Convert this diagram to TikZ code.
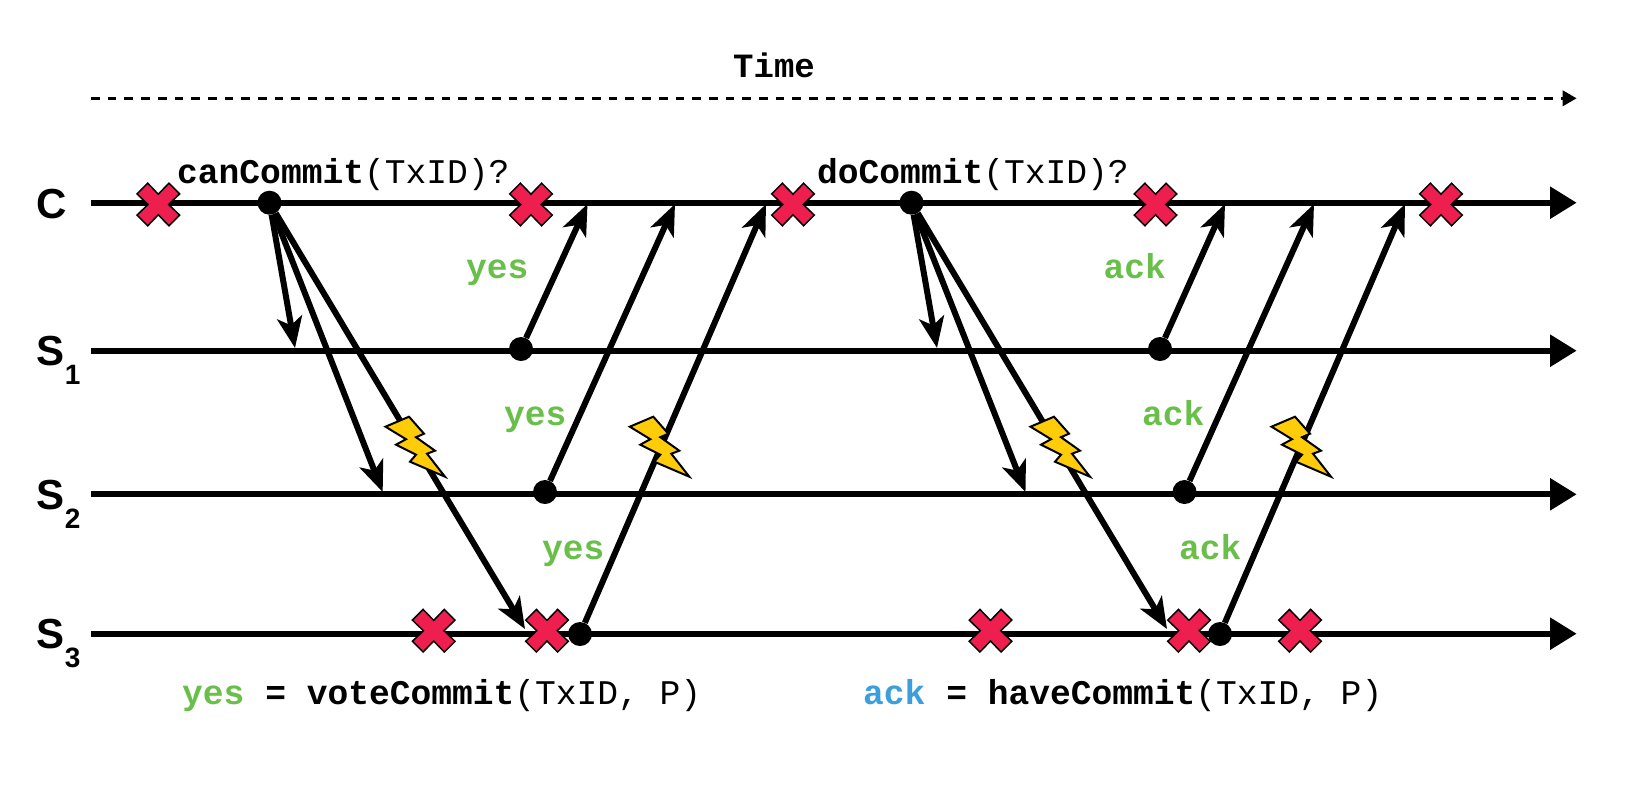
\documentclass[tikz,border=0pt]{standalone}
\usepackage{fontspec}
\setmainfont{Liberation Sans}
\setmonofont{Liberation Mono}
\usepackage{tikz}
\definecolor{crossred}{RGB}{238,31,79}
\definecolor{boltyellow}{RGB}{255,204,10}
\definecolor{votegreen}{RGB}{106,191,75}
\definecolor{ackblue}{RGB}{60,159,220}
\usetikzlibrary{arrows.meta}
\pgfdeclarelayer{edgelayer}
\pgfdeclarelayer{nodelayer}
\pgfsetlayers{edgelayer,nodelayer,main}
\tikzstyle{lane}=[-{Triangle[length=26.7pt,width=31pt]},line width=6pt]
\tikzstyle{msg}=[-{Stealth[length=31pt,width=25pt,inset=8pt]},line width=6pt]
\tikzstyle{dot}=[circle,fill=black,inner sep=0pt,minimum size=24pt]
\tikzstyle{proc}=[anchor=base west,inner sep=0pt,font=\fontsize{42}{42}\selectfont\bfseries]
\tikzstyle{call}=[anchor=base west,inner sep=0pt,font=\fontsize{34.6}{36}\selectfont\ttfamily]
\tikzstyle{reply}=[call,text=votegreen,font=\fontsize{34.6}{36}\selectfont\ttfamily\bfseries]
\newcommand{\subnum}[1]{\raisebox{-19pt}{\fontsize{28}{28}\selectfont #1}}
\tikzset{
    crash/.pic={
        \draw [fill=crossred,draw=black,line width=1.5pt,miter limit=10]
            (0,-10.3) -- (10.6,-21.3) -- (21.3,-10.6) -- (10.3,0) -- (21.3,10.6) -- (10.6,21.3)
            -- (0,10.3) -- (-10.6,21.3) -- (-21.3,10.6) -- (-10.3,0) -- (-21.3,-10.6) -- (-10.6,-21.3) -- cycle;
    },
    bolt/.pic={
        \draw [fill=boltyellow,draw=black,line width=2pt,miter limit=10]
            (1.5,0) -- (25,-10) -- (40,7) -- (32,10.5) -- (51,24) -- (43,27)
            -- (61,50) -- (26,35) -- (32,28) -- (12,18) -- (22,12.5) -- cycle;
    }
}

\begin{document}
\begin{tikzpicture}[x=1pt,y=-1pt]
        \useasboundingbox (0,0) rectangle (1628,801);

        \begin{pgfonlayer}{nodelayer}
            \node [call, font=\fontsize{34}{36}\selectfont\ttfamily\bfseries] (time) at (733, 77.3) {Time};

            \node [proc] (labc) at (36.7, 218) {C};
            \node [proc] (labs1) at (36.7, 365.5) {S\subnum{1}};
            \node [proc] (labs2) at (36.7, 509) {S\subnum{2}};
            \node [proc] (labs3) at (36.7, 648.5) {S\subnum{3}};

            \node [style = dot] (can) at (269.5, 202.7) {};
            \node [style = dot] (vote1) at (521, 349) {};
            \node [style = dot] (vote2) at (545, 492) {};
            \node [style = dot] (vote3) at (580, 634) {};
            \node [style = dot] (do) at (911.5, 202.7) {};
            \node [style = dot] (ack1) at (1160, 349) {};
            \node [style = dot] (ack2) at (1184.5, 492) {};
            \node [style = dot] (ack3) at (1220, 634) {};

            \node [call] (cancall) at (177, 183) {\textbf{canCommit}(TxID)?};
            \node [call] (docall) at (817, 183) {\textbf{doCommit}(TxID)?};

            \node [reply] (yes1) at (466, 278) {yes};
            \node [reply] (yes2) at (504, 425) {yes};
            \node [reply] (yes3) at (542, 559) {yes};
            \node [reply] (ack1txt) at (1103.5, 278) {ack};
            \node [reply] (ack2txt) at (1142, 425) {ack};
            \node [reply] (ack3txt) at (1179, 559) {ack};

            \node [call] (yeslegend) at (182, 704) {\textbf{\textcolor{votegreen}{yes} = voteCommit}(TxID, P)};
            \node [call] (acklegend) at (863, 704) {\textbf{\textcolor{ackblue}{ack} = haveCommit}(TxID, P)};

            \pic at (158.3, 204.5) {crash};
            \pic at (531, 204.5) {crash};
            \pic at (793, 204.5) {crash};
            \pic at (1155.5, 204.5) {crash};
            \pic at (1441, 204.5) {crash};
            \pic at (433.7, 630.7) {crash};
            \pic at (547, 630.7) {crash};
            \pic at (990.5, 630.7) {crash};
            \pic at (1189, 630.7) {crash};
            \pic at (1300, 630.7) {crash};

            \pic at (384, 426.7) {bolt};
            \pic at (628.3, 426.7) {bolt};
            \pic at (1029, 426.7) {bolt};
            \pic at (1270, 426.7) {bolt};
        \end{pgfonlayer}

        \begin{pgfonlayer}{edgelayer}
            \coordinate (timea) at (91, 98.3);
            \coordinate (timeb) at (1576.7, 98.3);
            \coordinate (ca) at (91, 202.7);
            \coordinate (cb) at (1576.7, 202.7);
            \coordinate (s1a) at (91, 350.7);
            \coordinate (s1b) at (1576.7, 350.7);
            \coordinate (s2a) at (91, 494.3);
            \coordinate (s2b) at (1576.7, 494.3);
            \coordinate (s3a) at (91, 633.7);
            \coordinate (s3b) at (1576.7, 633.7);

            \coordinate (cant1) at (295, 348);
            \coordinate (cant2) at (382.7, 492);
            \coordinate (cant3) at (525, 629);
            \coordinate (dot1) at (937, 348);
            \coordinate (dot2) at (1025.5, 492);
            \coordinate (dot3) at (1167, 629);
            \coordinate (vt1) at (587.5, 204);
            \coordinate (vt2) at (675, 204);
            \coordinate (vt3) at (766, 204);
            \coordinate (at1) at (1225, 204);
            \coordinate (at2) at (1314, 204);
            \coordinate (at3) at (1405, 204);

            \draw [-{Triangle[length=14pt,width=15pt]}, line width=3.3pt, dash pattern=on 8.7pt off 8pt] (timea) to (timeb);
            \draw [style = lane] (ca) to (cb);
            \draw [style = lane] (s1a) to (s1b);
            \draw [style = lane] (s2a) to (s2b);
            \draw [style = lane] (s3a) to (s3b);

            \draw [style = msg] (can) to (cant1);
            \draw [style = msg] (can) to (cant2);
            \draw [style = msg] (can) to (cant3);
            \draw [style = msg] (do) to (dot1);
            \draw [style = msg] (do) to (dot2);
            \draw [style = msg] (do) to (dot3);

            \draw [style = msg] (vote1) to (vt1);
            \draw [style = msg] (vote2) to (vt2);
            \draw [style = msg] (vote3) to (vt3);
            \draw [style = msg] (ack1) to (at1);
            \draw [style = msg] (ack2) to (at2);
            \draw [style = msg] (ack3) to (at3);
        \end{pgfonlayer}
    \end{tikzpicture}
\end{document}
